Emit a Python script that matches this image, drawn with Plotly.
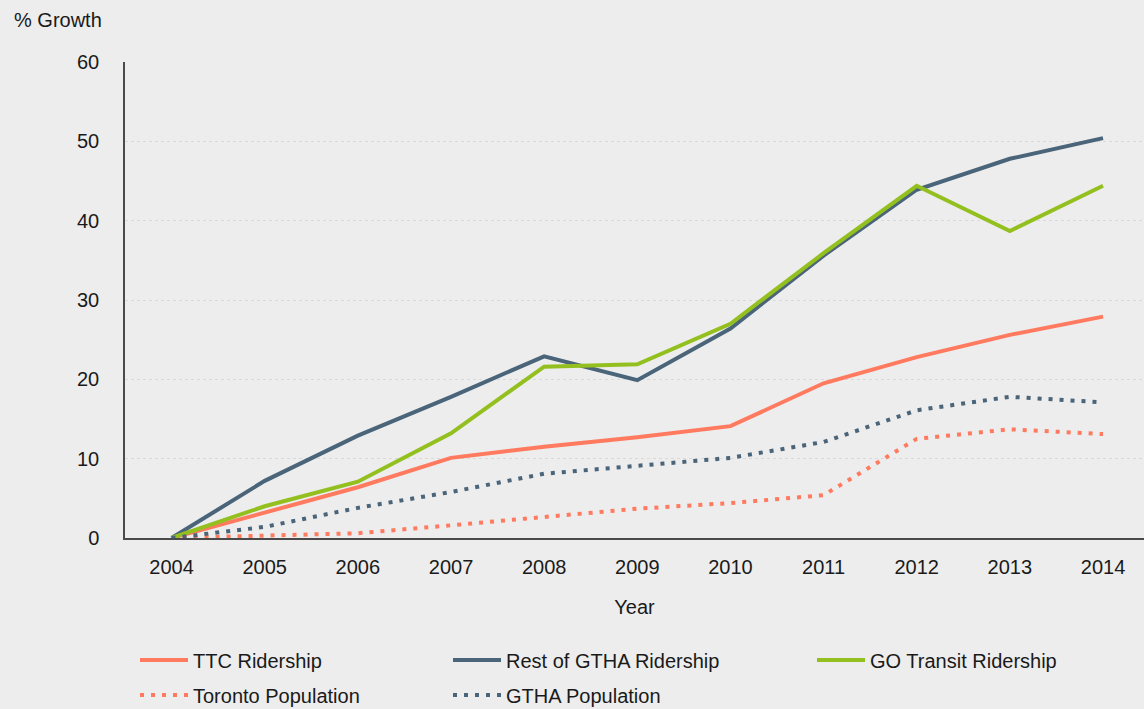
import plotly.graph_objects as go

years = [2004, 2005, 2006, 2007, 2008, 2009, 2010, 2011, 2012, 2013, 2014]
ttc_ridership = [0, 3.2, 6.4, 10.1, 11.5, 12.7, 14.1, 19.5, 22.8, 25.6, 27.9]
rest_gtha_ridership = [0, 7.2, 12.9, 17.8, 22.9, 19.9, 26.4, 35.6, 43.9, 47.8, 50.4]
go_transit_ridership = [0, 4.0, 7.1, 13.2, 21.6, 21.9, 27.0, 35.9, 44.4, 38.7, 44.4]
toronto_population = [0, 0.3, 0.6, 1.6, 2.6, 3.7, 4.4, 5.4, 12.5, 13.7, 13.1]
gtha_population = [0, 1.4, 3.8, 5.8, 8.1, 9.1, 10.1, 12.1, 16.1, 17.8, 17.1]
y_ticks = [0, 10, 20, 30, 40, 50, 60]

SALMON = "#ff7a5f"
SLATE = "#4a6479"
LIME = "#93c01f"
TEXT = "#1a1a1a"
FONT = "Liberation Sans, Arial, sans-serif"
FS = 20

series = [
    ("TTC Ridership", ttc_ridership, SALMON, "solid", "legend"),
    ("Rest of GTHA Ridership", rest_gtha_ridership, SLATE, "solid", "legend2"),
    ("GO Transit Ridership", go_transit_ridership, LIME, "solid", "legend3"),
    ("Toronto Population", toronto_population, SALMON, "4px,7px", "legend4"),
    ("GTHA Population", gtha_population, SLATE, "4px,7px", "legend5"),
]

fig = go.Figure()
for name, vals, color, dash, lg in series:
    fig.add_trace(go.Scatter(
        x=years, y=vals, name=name, mode="lines",
        line=dict(color=color, width=4, dash=dash),
        legend=lg,
    ))

W, H = 1144, 709
ML, MR, MT, MB = 125, 0, 62, 171

def lg(xpx, ypx):
    return dict(
        x=xpx / W, y=1 - ypx / H, xref="container", yref="container",
        xanchor="left", yanchor="middle", bgcolor="rgba(0,0,0,0)",
        font=dict(family=FONT, size=FS, color=TEXT), itemwidth=48,
        itemclick=False, itemdoubleclick=False,
    )

fig.update_layout(
    width=W, height=H,
    paper_bgcolor="#ededed", plot_bgcolor="#ededed",
    margin=dict(l=ML, r=MR, t=MT, b=MB, autoexpand=False),
    font=dict(family=FONT, size=FS, color=TEXT),
    showlegend=True,
    legend=lg(135, 660),
    legend2=lg(448, 660),
    legend3=lg(812, 660),
    legend4=lg(135, 695),
    legend5=lg(448, 695),
    xaxis=dict(
        range=[2003.5, 2014.44], tickvals=years, ticktext=[str(y) for y in years],
        showgrid=False, zeroline=False, showline=True, linecolor="#4a4a4a", linewidth=1.5,
        ticks="", ticklabelstandoff=10,
        title=dict(text="Year", standoff=23, font=dict(size=FS)),
        fixedrange=True,
    ),
    yaxis=dict(
        range=[0, 60], tickvals=y_ticks,
        showgrid=True, gridcolor="#d9d9d9", griddash="dot", gridwidth=1,
        zeroline=False, showline=True, linecolor="#4a4a4a", linewidth=1.5,
        ticks="", ticklabelstandoff=20,
        fixedrange=True,
    ),
    annotations=[dict(
        text="% Growth", xref="paper", yref="paper",
        x=(12 - ML) / (W - ML - MR), y=1 + (MT - 20) / (H - MT - MB),
        showarrow=False, xanchor="left", yanchor="middle",
        font=dict(family=FONT, size=FS, color=TEXT),
    )],
)

fig.write_html(
    "out.html",
    config={"displayModeBar": False, "staticPlot": False},
    post_script="document.body.style.margin='0';document.body.style.background='#ededed';",
)
